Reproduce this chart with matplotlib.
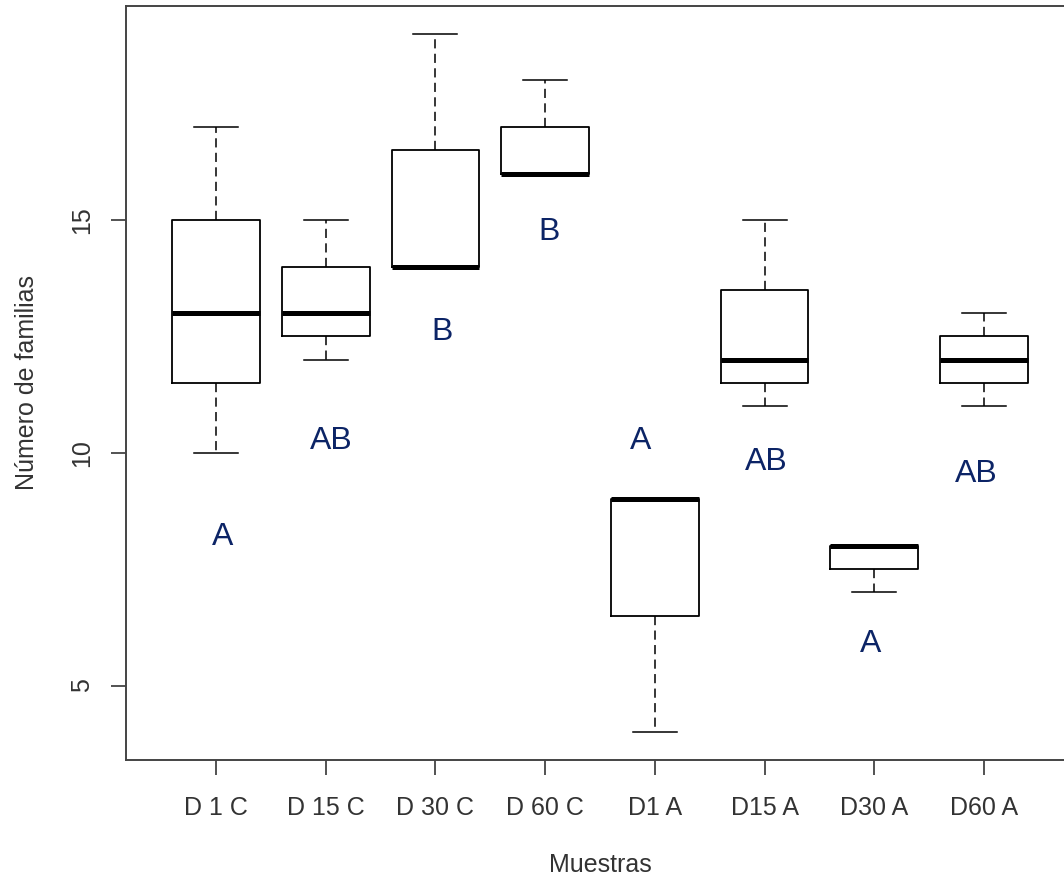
import matplotlib.pyplot as plt

plt.rcParams['font.family'] = ['Liberation Sans', 'DejaVu Sans']

muestras = ['D 1 C', 'D 15 C', 'D 30 C', 'D 60 C', 'D1 A', 'D15 A', 'D30 A', 'D60 A']
whislo = [10, 12, 14, 16, 4, 11, 7, 11]
q1 = [11.5, 12.5, 14, 16, 6.5, 11.5, 7.5, 11.5]
med = [13, 13, 14, 16, 9, 12, 8, 12]
q3 = [15, 14, 16.5, 17, 9, 13.5, 8, 12.5]
whishi = [17, 15, 19, 18, 9, 15, 8, 13]

letras = ['A', 'AB', 'B', 'B', 'A', 'AB', 'A', 'AB']
letras_y = [8.2, 10.25, 12.6, 14.75, 10.25, 9.8, 5.9, 9.55]
letras_dx = [0.06, 0.05, 0.06, 0.04, -0.13, 0.02, -0.03, -0.07]

stats = []
for i in range(len(muestras)):
    stats.append({'label': muestras[i], 'whislo': whislo[i], 'q1': q1[i],
                  'med': med[i], 'q3': q3[i], 'whishi': whishi[i], 'fliers': []})

fig = plt.figure(figsize=(10.64, 8.82), dpi=100)
ax = fig.add_axes([126 / 1064, 122 / 882, 948 / 1064, 754 / 882])

pos = list(range(1, len(muestras) + 1))
ax.bxp(stats, positions=pos, widths=0.8, showfliers=False,
       boxprops=dict(color='black', linewidth=1.3),
       medianprops=dict(color='black', linewidth=3.6, solid_capstyle='butt'),
       whiskerprops=dict(color='black', linewidth=1.1, linestyle=(0, (6, 3.5))),
       capprops=dict(color='black', linewidth=1.1), capwidths=0.4)

for i in range(len(muestras)):
    ax.text(pos[i] + letras_dx[i], letras_y[i], letras[i], color='#0c2466',
            fontsize=23, ha='center', va='center')

ax.set_xlim(0.18, 8.82)
ax.set_ylim(3.4, 19.6)
ax.set_yticks([5, 10, 15])
ax.set_yticklabels(['5', '10', '15'], rotation=90, va='center')
ax.set_xticks(pos)
ax.set_xticklabels(muestras)

ax.spines['right'].set_visible(False)
for s in ['left', 'bottom', 'top']:
    ax.spines[s].set_color('#444444')
    ax.spines[s].set_linewidth(1.4)

ax.tick_params(axis='both', length=11, width=1.3, color='#444444',
               labelsize=18, labelcolor='#333333')
ax.tick_params(axis='x', pad=15)
ax.tick_params(axis='y', pad=12)

ax.set_xlabel('Muestras', fontsize=18, color='#333333', labelpad=24)
ax.set_ylabel('Número de familias', fontsize=18, color='#333333', labelpad=22)

fig.savefig('out.png', dpi=100)
